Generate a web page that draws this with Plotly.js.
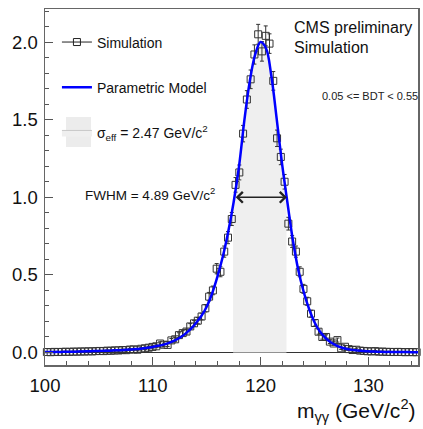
<!DOCTYPE html>
<html>
<head>
<meta charset="utf-8">
<script src="https://cdn.plot.ly/plotly-3.0.1.min.js"></script>
<style>
html,body{margin:0;padding:0;background:#fff;}
#chart{width:423px;height:429px;}
</style>
</head>
<body>
<div id="chart"></div>
<script>
// ---- Simulated points (bin centres, values, errors) ----
const binCenters = [100.175,100.525,100.875,101.225,101.575,101.925,102.275,102.625,102.975,103.325,
103.675,104.025,104.375,104.725,105.075,105.425,105.775,106.125,106.475,106.825,
107.175,107.525,107.875,108.225,108.575,108.925,109.275,109.625,109.975,110.325,
110.675,111.025,111.375,111.725,112.075,112.425,112.775,113.125,113.475,113.825,
114.175,114.525,114.875,115.225,115.575,115.925,116.275,116.625,116.975,117.325,
117.675,118.025,118.375,118.725,119.075,119.425,119.775,120.125,120.475,120.825,
121.175,121.525,121.875,122.225,122.575,122.925,123.275,123.625,123.975,124.325,
124.675,125.025,125.375,125.725,126.075,126.425,126.775,127.125,127.475,127.825,
128.175,128.525,128.875,129.225,129.575,129.925,130.275,130.625,130.975,131.325,
131.675,132.025,132.375,132.725,133.075,133.425,133.775,134.125,134.475,134.825];
const simValues = [0.003,0.002,0.004,0.003,0.004,0.005,0.004,0.006,0.005,0.007,
0.006,0.008,0.007,0.009,0.010,0.009,0.012,0.011,0.014,0.013,
0.016,0.015,0.019,0.020,0.018,0.024,0.027,0.031,0.036,0.040,
0.058,0.050,0.049,0.078,0.085,0.112,0.125,0.135,0.168,0.188,
0.205,0.232,0.285,0.36,0.40,0.54,0.52,0.65,0.74,0.86,
1.08,1.16,1.41,1.63,1.76,1.92,2.05,1.94,2.04,1.99,
1.75,1.38,1.26,1.10,0.83,0.715,0.65,0.52,0.41,0.33,
0.25,0.19,0.134,0.10,0.10,0.07,0.058,0.08,0.027,0.037,
0.022,0.016,0.018,0.012,0.010,0.008,0.007,0.009,0.005,0.006,
0.004,0.004,0.003,0.004,0.003,0.002,0.003,0.002,0.002,0.002];
const simErrors = [0.002,0.002,0.003,0.002,0.003,0.003,0.003,0.003,0.003,0.004,
0.003,0.004,0.004,0.004,0.004,0.004,0.005,0.005,0.005,0.005,
0.006,0.006,0.006,0.006,0.006,0.007,0.007,0.008,0.008,0.009,
0.011,0.010,0.010,0.012,0.013,0.015,0.016,0.016,0.018,0.019,
0.020,0.021,0.024,0.027,0.028,0.033,0.032,0.036,0.039,0.042,
0.047,0.048,0.053,0.057,0.060,0.062,0.064,0.063,0.064,0.063,
0.060,0.053,0.050,0.047,0.041,0.038,0.036,0.032,0.029,0.026,
0.022,0.020,0.016,0.014,0.014,0.012,0.011,0.013,0.007,0.009,
0.007,0.006,0.006,0.005,0.004,0.004,0.004,0.004,0.003,0.003,
0.003,0.003,0.002,0.003,0.002,0.002,0.002,0.002,0.002,0.002];

// ---- Parametric model curve ----
const modelX = [100,100.5,101,101.5,102,102.5,103,103.5,104,104.5,105,105.5,106,106.5,107,107.5,
108,108.5,109,109.5,110,110.5,111,111.5,112,112.5,113,113.5,114,114.5,115,115.5,116,116.5,
117,117.5,118,118.5,119,119.5,120,120.5,121,121.5,122,122.5,123,123.5,124,124.5,125,125.5,
126,126.5,127,127.5,128,128.5,129,129.5,130,130.5,131,131.5,132,132.5,133,133.5,134,134.5,135];
const modelY = [0.003,0.003,0.004,0.004,0.005,0.005,0.006,0.007,0.008,0.009,0.010,0.011,0.012,0.014,0.015,0.017,
0.019,0.022,0.026,0.030,0.036,0.043,0.051,0.062,0.076,0.095,0.12,0.15,0.19,0.235,0.295,0.38,0.49,0.62,
0.78,0.97,1.20,1.50,1.75,1.92,2.00,1.96,1.78,1.50,1.21,0.96,0.72,0.53,0.39,0.28,0.195,0.135,
0.095,0.066,0.046,0.032,0.023,0.017,0.013,0.010,0.008,0.006,0.005,0.004,0.004,0.003,0.003,0.003,0.002,0.002,0.002];

// ---- sigma_eff band (area under model) ----
const sigmaEffX = [117.45,118,118.5,119,119.5,120,120.5,121,121.5,122,122.4];
const sigmaEffY = [0.94,1.20,1.50,1.75,1.92,2.00,1.96,1.78,1.50,1.21,1.01];

// ---- FWHM ----
const fwhmLo = 117.55, fwhmHi = 122.44, halfMax = 1.0;

// ---- labels ----
const legendSim = 'Simulation';
const legendModel = 'Parametric Model';
const legendSigma = 'σ<sub>eff</sub> = 2.47 GeV/c<sup>2</sup>';
const fwhmLabel = 'FWHM = 4.89 GeV/c<sup>2</sup>';
const cmsLine1 = 'CMS preliminary';
const cmsLine2 = 'Simulation';
const bdtLabel = '0.05 &lt;= BDT &lt; 0.55';
const xTitle = 'm<sub>γγ</sub> (GeV/c<sup>2</sup>)';

const FONT = 'Liberation Sans, Arial, Helvetica, sans-serif';

const traces = [
  {
    x: sigmaEffX, y: sigmaEffY, type: 'scatter', mode: 'lines',
    line: {color: '#c8c8c8', width: 1, shape: 'spline'},
    fill: 'tozeroy', fillcolor: '#efefef',
    name: legendSigma, legendgroup: 'c', legendrank: 3, hoverinfo: 'skip'
  },
  {
    x: binCenters, y: simValues, type: 'scatter', mode: 'markers',
    marker: {symbol: 'square-open', size: 7, color: '#333', line: {width: 1, color: '#333'}},
    error_y: {type: 'data', array: simErrors, visible: true, color: '#333', thickness: 1, width: 2},
    showlegend: false, cliponaxis: false
  },
  {
    x: [null], y: [null], type: 'scatter', mode: 'lines+markers',
    line: {color: '#222', width: 1},
    marker: {symbol: 'square-open', size: 7, color: '#222'},
    name: legendSim, legendgroup: 'a', legendrank: 1
  },
  {
    x: modelX, y: modelY, type: 'scatter', mode: 'lines',
    line: {color: '#0000ff', width: 2.5, shape: 'spline'},
    name: legendModel, legendgroup: 'b', legendrank: 2, cliponaxis: false
  }
];

const layout = {
  width: 423, height: 429,
  margin: {l: 45, r: 5, t: 9, b: 64},
  paper_bgcolor: '#fff', plot_bgcolor: '#fff',
  font: {family: FONT, color: '#111'},
  showlegend: true,
  legend: {
    x: 0.032, y: 0.951, xanchor: 'left', yanchor: 'top',
    bgcolor: 'rgba(0,0,0,0)', font: {size: 14, family: FONT, color: '#111'},
    traceorder: 'grouped', tracegroupgap: 24, itemwidth: 30
  },
  shapes: [
    {type: 'rect', xref: 'paper', yref: 'paper', x0: 0.0563, x1: 0.1233, y0: 0.6124, y1: 0.6966,
     fillcolor: '#ececec', line: {width: 0}, layer: 'below'}
  ],
  xaxis: {
    range: [100, 134.6], dtick: 10, tick0: 100,
    ticks: 'inside', ticklen: 8, tickwidth: 1, tickcolor: '#555',
    minor: {dtick: 2, ticks: 'inside', ticklen: 4, tickcolor: '#555'},
    showline: true, linecolor: '#666', linewidth: 1.5, mirror: true,
    showgrid: false, zeroline: false,
    tickfont: {size: 18.5, family: FONT, color: '#111'},
    ticklabelstandoff: 3
  },
  yaxis: {
    range: [-0.0805, 2.213], dtick: 0.5, tick0: 0, tickformat: '.1f',
    ticks: 'inside', ticklen: 8, tickwidth: 1, tickcolor: '#555',
    minor: {dtick: 0.1, ticks: 'inside', ticklen: 4, tickcolor: '#555'},
    showline: true, linecolor: '#666', linewidth: 1.5, mirror: true,
    showgrid: false, zeroline: true, zerolinecolor: '#333', zerolinewidth: 1.5,
    tickfont: {size: 18.5, family: FONT, color: '#111'},
    ticklabelstandoff: 2
  },
  annotations: [
    {x: fwhmHi, y: halfMax, ax: fwhmLo, ay: halfMax, xref: 'x', yref: 'y', axref: 'x', ayref: 'y',
     text: '', showarrow: true, arrowhead: 4, startarrowhead: 4, arrowside: 'end+start',
     arrowsize: 1.4, startarrowsize: 1.4, arrowwidth: 1.5, arrowcolor: '#222', standoff: 0, startstandoff: 0},
    {x: 103.5, y: 1.02, xref: 'x', yref: 'y', xanchor: 'left', yanchor: 'middle', showarrow: false,
     text: fwhmLabel, font: {size: 13.5, family: FONT, color: '#111'}},
    {x: 122.9, y: 2.097, xref: 'x', yref: 'y', xanchor: 'left', yanchor: 'middle', showarrow: false,
     text: cmsLine1, font: {size: 16, family: FONT, color: '#111'}},
    {x: 122.9, y: 1.968, xref: 'x', yref: 'y', xanchor: 'left', yanchor: 'middle', showarrow: false,
     text: cmsLine2, font: {size: 16, family: FONT, color: '#111'}},
    {x: 125.5, y: 1.652, xref: 'x', yref: 'y', xanchor: 'left', yanchor: 'middle', showarrow: false,
     text: bdtLabel, font: {size: 11, family: FONT, color: '#222'}},
    {x: 1, y: -0.127, xref: 'paper', yref: 'paper', xanchor: 'right', yanchor: 'middle', showarrow: false,
     text: xTitle, font: {size: 21, family: FONT, color: '#111'}}
  ]
};

Plotly.newPlot('chart', traces, layout, {staticPlot: true, displayModeBar: false});
</script>
</body>
</html>
